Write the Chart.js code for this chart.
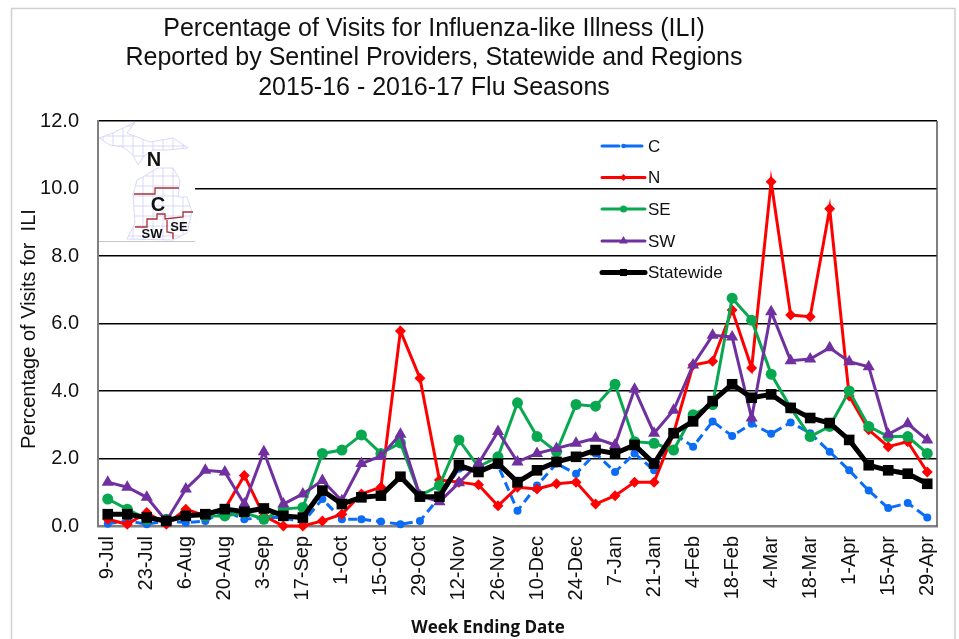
<!DOCTYPE html>
<html>
<head>
<meta charset="utf-8">
<script src="https://cdn.jsdelivr.net/npm/chart.js@4/dist/chart.umd.min.js"></script>
<style>
  html, body { margin: 0; padding: 0; background: #fff; }
  #wrap { width: 959px; height: 639px; }
</style>
</head>
<body>
<div id="wrap"><canvas id="chart" width="959" height="639"></canvas></div>
<script>
/* ─── Data ───────────────────────────────────────────────────────────────── */
const weeks = ['9-Jul','16-Jul','23-Jul','30-Jul','6-Aug','13-Aug','20-Aug','27-Aug','3-Sep','10-Sep','17-Sep','24-Sep',
  '1-Oct','8-Oct','15-Oct','22-Oct','29-Oct','5-Nov','12-Nov','19-Nov','26-Nov','3-Dec','10-Dec','17-Dec','24-Dec','31-Dec',
  '7-Jan','14-Jan','21-Jan','28-Jan','4-Feb','11-Feb','18-Feb','25-Feb','4-Mar','11-Mar','18-Mar','25-Mar','1-Apr','8-Apr',
  '15-Apr','22-Apr','29-Apr'];
const central = [0.07,0.15,0.05,0.15,0.1,0.15,0.45,0.2,0.25,0.25,0.1,0.8,0.2,0.2,0.13,0.05,0.15,0.85,1.7,1.65,1.8,0.45,1.2,1.85,1.55,2.15,1.6,2.15,1.65,2.75,2.35,3.1,2.67,3.03,2.73,3.07,2.75,2.2,1.65,1.05,0.53,0.68,0.25];
const north = [0.2,0.05,0.4,0.05,0.5,0.3,0.5,1.5,0.3,0,0,0.15,0.35,0.95,1.15,5.78,4.38,1.36,1.3,1.22,0.6,1.15,1.1,1.25,1.3,0.65,0.9,1.3,1.3,2.75,4.77,4.88,6.4,4.68,10.2,6.25,6.2,9.4,3.85,2.85,2.35,2.5,1.6];
const southEast = [0.8,0.5,0.2,0.2,0.3,0.3,0.3,0.4,0.2,0.5,0.55,2.15,2.25,2.7,2.15,2.46,0.9,1.2,2.55,1.75,2.05,3.65,2.65,2.2,3.6,3.55,4.2,2.5,2.45,2.25,3.3,3.6,6.75,6.1,4.5,3.5,2.65,2.95,4.0,2.95,2.65,2.65,2.15];
const southWest = [1.3,1.15,0.85,0.15,1.1,1.65,1.6,0.65,2.2,0.65,0.95,1.35,0.75,1.85,2.07,2.72,0.9,0.72,1.28,1.85,2.8,1.9,2.15,2.3,2.45,2.6,2.4,4.05,2.75,3.43,4.77,5.65,5.6,3.2,6.35,4.9,4.95,5.28,4.87,4.72,2.72,3.03,2.55];
const statewide = [0.35,0.35,0.25,0.15,0.3,0.35,0.5,0.42,0.52,0.3,0.25,1.05,0.65,0.85,0.9,1.46,0.87,0.87,1.8,1.6,1.85,1.3,1.65,1.9,2.05,2.25,2.15,2.4,1.85,2.75,3.1,3.7,4.2,3.8,3.9,3.5,3.2,3.05,2.55,1.8,1.65,1.55,1.25];
const titleLines = ['Percentage of Visits for Influenza-like Illness (ILI)', 'Reported by Sentinel Providers, Statewide and Regions', '2015-16 - 2016-17 Flu Seasons'];

const FONT = '"Liberation Sans", Arial, sans-serif';

/* ─── Michigan map outlines (picture inset, not data) ────────────────────── */
const upperPeninsula = [[99,138],[113,133],[135,122],[127,133],[132,135],[150,142],[173,138],[188,148],[167,150],[153,150],[143,157],[138,165],[133,155],[123,147],[110,145]];
const lowerPeninsula = [[143,177],[157,168],[173,168],[180,180],[178,197],[187,197],[192,212],[187,233],[173,240],[127,239],[135,223],[133,195],[137,180]];
const regionLines = [
  [[134,194],[155,194],[155,188],[179,188]],
  [[135,227],[147,227],[147,219],[157,219],[157,214],[165,214],[165,219],[183,217],[183,212],[193,212]],
  [[167,220],[167,232],[173,233],[173,239]]
];

function tracePath(ctx, pts, close) {
  ctx.beginPath();
  pts.forEach((p, i) => i ? ctx.lineTo(p[0], p[1]) : ctx.moveTo(p[0], p[1]));
  if (close) ctx.closePath();
}

function drawMap(ctx) {
  ctx.save();
  ctx.fillStyle = '#fff';
  ctx.fillRect(99, 122, 96, 119);
  ctx.strokeStyle = '#c4c4c4';
  ctx.lineWidth = 1;
  ctx.beginPath(); ctx.moveTo(99, 241.5); ctx.lineTo(195, 241.5); ctx.stroke();

  ctx.strokeStyle = '#cfcff7';
  ctx.lineWidth = 0.8;
  [upperPeninsula, lowerPeninsula].forEach(shape => {
    ctx.save();
    tracePath(ctx, shape, true);
    ctx.stroke();
    ctx.clip();
    ctx.beginPath();
    for (let x = 103; x < 195; x += 10) { ctx.moveTo(x, 122); ctx.lineTo(x, 241); }
    for (let y = 126; y < 241; y += 10) { ctx.moveTo(99, y); ctx.lineTo(195, y); }
    ctx.stroke();
    ctx.restore();
  });

  ctx.strokeStyle = '#a83232';
  ctx.lineWidth = 1.3;
  regionLines.forEach(l => { tracePath(ctx, l, false); ctx.stroke(); });

  ctx.fillStyle = '#111';
  ctx.textAlign = 'center';
  ctx.textBaseline = 'middle';
  ctx.font = 'bold 20px ' + FONT;
  ctx.fillText('N', 154, 160);
  ctx.fillText('C', 158, 205);
  ctx.font = 'bold 13px ' + FONT;
  ctx.fillText('SW', 152, 234);
  ctx.fillText('SE', 179, 227);
  ctx.restore();
}

/* ─── Legend + frame, placed by hand like the original ───────────────────── */
const legendRows = [146, 177.5, 209, 241, 272.5];

const decorations = {
  id: 'decorations',
  afterLayout(chart) {
    // title is centred over the left part of the sheet, not over the plot
    chart.titleBlock.left = 0;
    chart.titleBlock.right = 868;
  },
  beforeDatasetsDraw(chart) {
    drawMap(chart.ctx);
  },
  afterDraw(chart) {
    const ctx = chart.ctx, a = chart.chartArea;
    ctx.save();
    // sheet frame
    ctx.strokeStyle = '#d0d0d0';
    ctx.lineWidth = 1.5;
    ctx.beginPath();
    ctx.moveTo(11.5, 639); ctx.lineTo(11.5, 8.5); ctx.lineTo(955, 8.5); ctx.lineTo(955, 639);
    ctx.stroke();
    // right edge of the plot
    ctx.strokeStyle = '#555';
    ctx.lineWidth = 1.5;
    ctx.beginPath(); ctx.moveTo(a.right, a.top); ctx.lineTo(a.right, a.bottom); ctx.stroke();

    // x axis title
    ctx.fillStyle = '#111';
    ctx.font = 'bold 17px "Open Sans", ' + FONT;
    ctx.textAlign = 'center';
    ctx.textBaseline = 'middle';
    ctx.fillText('Week Ending Date', 488, 628);

    // legend
    ctx.font = '17px ' + FONT;
    ctx.textAlign = 'left';
    chart.data.datasets.forEach((ds, i) => {
      const y = legendRows[i];
      ctx.strokeStyle = ds.borderColor;
      ctx.lineWidth = ds.borderWidth;
      ctx.lineCap = 'round';
      ctx.setLineDash(ds.borderDash ? [17, 6] : []);
      ctx.beginPath(); ctx.moveTo(602, y); ctx.lineTo(645, y); ctx.stroke();
      ctx.setLineDash([]);
      ctx.fillStyle = ds.borderColor;
      Chart.helpers.drawPoint(ctx, { pointStyle: ds.pointStyle, rotation: 0, radius: ds.legendRadius, borderWidth: 0 }, 623.5, y);
      ctx.fillStyle = '#111';
      ctx.fillText(ds.label, 648, y + 1);
    });
    ctx.restore();
  }
};

/* ─── Chart ──────────────────────────────────────────────────────────────── */
function series(label, data, colour, style, radius, width, order, legendRadius, dash) {
  return {
    label, data, order, legendRadius,
    borderColor: colour,
    backgroundColor: colour,
    borderWidth: width,
    borderDash: dash,
    pointStyle: style,
    pointRadius: radius,
    pointBorderWidth: 0,
    tension: 0,
    clip: false
  };
}

new Chart(document.getElementById('chart'), {
  type: 'line',
  data: {
    labels: weeks,
    datasets: [
      series('C', central, '#0b6cf5', 'circle', 4, 3, 5, 2.3, [9, 5]),
      series('N', north, '#ff0000', 'rectRot', 5.5, 3, 4, 3.5),
      series('SE', southEast, '#08a850', 'circle', 5.5, 3, 3, 3.5),
      series('SW', southWest, '#7030a0', 'triangle', 7, 3, 2, 5),
      series('Statewide', statewide, '#000000', 'rect', 7.5, 5, 1, 5)
    ]
  },
  plugins: [decorations],
  options: {
    responsive: false,
    animation: false,
    layout: { padding: { right: 22 } },
    plugins: {
      legend: { display: false },
      tooltip: { enabled: false },
      title: {
        display: true,
        text: titleLines,
        color: '#111',
        font: { family: FONT, size: 25, weight: 'normal', lineHeight: 1.18 },
        padding: { top: 14, bottom: 18.5 }
      }
    },
    scales: {
      x: {
        offset: true,
        afterFit: s => { s.height = 113; s.paddingLeft = 0; s.paddingRight = 0; },
        grid: { display: false, drawTicks: false },
        border: { color: '#808080', width: 2.5 },
        ticks: {
          autoSkip: false,
          minRotation: 90,
          maxRotation: 90,
          padding: 10,
          color: '#111',
          font: { family: FONT, size: 20 },
          callback(v, i) { return i % 2 === 0 ? weeks[i] : ''; }
        }
      },
      y: {
        min: 0,
        max: 12,
        afterFit: s => { s.width = 98; },
        grid: { color: '#000', lineWidth: 1.5, drawTicks: false },
        border: { color: '#808080', width: 2 },
        ticks: {
          stepSize: 2,
          padding: 19,
          color: '#111',
          font: { family: FONT, size: 20 },
          callback: v => v.toFixed(1)
        },
        title: {
          display: true,
          text: 'Percentage of Visits for  ILI  ',
          color: '#111',
          font: { family: FONT, size: 20 },
          padding: { top: 17, bottom: 0 }
        }
      }
    }
  }
});
</script>
</body>
</html>
